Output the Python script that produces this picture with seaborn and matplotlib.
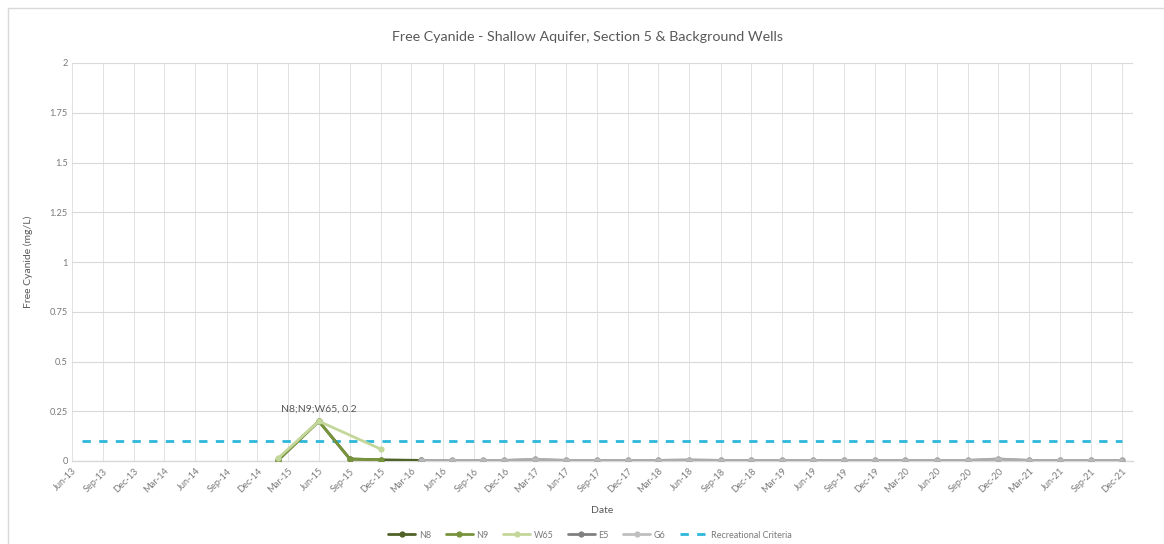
import matplotlib
matplotlib.use("Agg")
import matplotlib.pyplot as plt
from matplotlib.lines import Line2D
from matplotlib.patches import Rectangle
import pandas as pd
import seaborn as sns

# ---- data ----------------------------------------------------------------
n8_dates = ["2015-02-01", "2015-06-01", "2015-09-01", "2015-12-01", "2016-03-28"]
n8_values = [0.005, 0.2, 0.01, 0.006, 0.003]

n9_dates = ["2015-02-01", "2015-06-01", "2015-09-01", "2015-12-01"]
n9_values = [0.005, 0.2, 0.01, 0.006]

w65_dates = ["2015-02-01", "2015-06-01", "2015-12-01"]
w65_values = [0.015, 0.2, 0.06]

gw_dates = ["2016-03-28", "2016-06-28", "2016-09-28", "2016-12-01",
            "2017-03-01", "2017-06-01", "2017-09-01", "2017-12-01",
            "2018-03-01", "2018-06-01", "2018-09-01", "2018-12-01",
            "2019-03-01", "2019-06-01", "2019-09-01", "2019-12-01",
            "2020-03-01", "2020-06-01", "2020-09-01", "2020-12-01",
            "2021-03-01", "2021-06-01", "2021-09-01", "2021-12-01"]
e5_values = [0.003, 0.003, 0.003, 0.003, 0.008, 0.003, 0.003, 0.003,
             0.003, 0.005, 0.003, 0.003, 0.003, 0.003, 0.003, 0.003,
             0.003, 0.003, 0.003, 0.01, 0.003, 0.003, 0.003, 0.003]
g6_values = [0.003, 0.003, 0.003, 0.003, 0.008, 0.003, 0.003, 0.003,
             0.003, 0.005, 0.003, 0.003, 0.003, 0.003, 0.003, 0.003,
             0.003, 0.003, 0.003, 0.01, 0.003, 0.003, 0.003, 0.003]

criteria_dates = ["2013-07-01", "2021-12-01"]
criteria_values = [0.1, 0.1]

tick_dates = pd.date_range("2013-06-01", "2021-12-01", freq="3MS")
y_ticks = [0, 0.25, 0.5, 0.75, 1, 1.25, 1.5, 1.75, 2]

series = [
    ("N8", n8_dates, n8_values, "#4F6228"),
    ("N9", n9_dates, n9_values, "#77933C"),
    ("W65", w65_dates, w65_values, "#C4D79B"),
    ("E5", gw_dates, e5_values, "#808080"),
    ("G6", gw_dates, g6_values, "#BFBFBF"),
]

# ---- figure --------------------------------------------------------------
sns.set_theme(style="white")
plt.rcParams["font.family"] = ["Lato", "DejaVu Sans"]

fig = plt.figure(figsize=(11.64, 5.44), dpi=100)
fig.patch.set_facecolor("white")
ax = fig.add_axes([72 / 1164, 1 - 461 / 544, (1133 - 72) / 1164, (461 - 63) / 544])

grid_c = "#D9D9D9"
text_c = "#595959"

for name, d, v, c in series:
    df = pd.DataFrame({"Date": pd.to_datetime(d), "Value": v})
    sns.lineplot(data=df, x="Date", y="Value", ax=ax, color=c, lw=2.0,
                 marker="o", markersize=4.5, markeredgewidth=0,
                 alpha=0.7 if name == "G6" else 1.0,
                 estimator=None, sort=True, zorder=3)

crit = pd.DataFrame({"Date": pd.to_datetime(criteria_dates), "Value": criteria_values})
sns.lineplot(data=crit, x="Date", y="Value", ax=ax, color="#2DB7DA", lw=2.0,
             estimator=None, zorder=2)
ax.lines[-1].set_linestyle((0, (3, 3)))

# peak label
ax.annotate("N8;N9;W65, 0.2", xy=(pd.Timestamp(n8_dates[1]), n8_values[1]),
            xytext=(0, 9), textcoords="offset points", ha="center", va="center",
            fontsize=7.5, color=text_c)

# axes
ax.set_xlim(pd.Timestamp("2013-06-01"), pd.Timestamp("2022-01-03"))
ax.set_ylim(0, 2)
ax.set_yticks(y_ticks)
ax.set_yticklabels([f"{t:g}" for t in y_ticks])
ax.set_xticks(tick_dates)
ax.set_xticklabels([t.strftime("%b-%y") for t in tick_dates], rotation=45,
                   ha="right", rotation_mode="anchor")
ax.tick_params(axis="both", length=0, labelsize=6.7, labelcolor="#7A7A7A")
ax.tick_params(axis="x", pad=4)
ax.tick_params(axis="y", pad=3)
ax.grid(True, axis="y", color=grid_c, lw=0.8)
ax.grid(True, axis="x", color="#E2E2E2", lw=0.7)
ax.set_axisbelow(True)
for s in ["top", "right", "left"]:
    ax.spines[s].set_visible(False)
ax.spines["bottom"].set_color(grid_c)
ax.spines["bottom"].set_linewidth(1.0)

ax.set_xlabel("Date", fontsize=7.5, color=text_c, labelpad=8)
ax.set_ylabel("Free Cyanide (mg/L)", fontsize=7.5, color=text_c, labelpad=12)

fig.text(587 / 1164, 1 - 37 / 544,
         "Free Cyanide - Shallow Aquifer, Section 5 & Background Wells",
         ha="center", va="center", fontsize=10.3, color=text_c)

# legend
handles = [Line2D([0], [0], color=c, lw=2.0, marker="o", markersize=4.5,
                  markeredgewidth=0) for _, _, _, c in series]
handles.append(Line2D([0], [0], color="#2DB7DA", lw=2.0, linestyle=(0, (3, 3))))
labels = [s[0] for s in series] + ["Recreational Criteria"]
fig.legend(handles, labels, loc="center", bbox_to_anchor=(590 / 1164, 1 - 535 / 544),
           ncol=6, frameon=False, fontsize=6.5, labelcolor="#7A7A7A",
           handlelength=3.0, columnspacing=1.6, handletextpad=0.4)

# chart border
fig.patches.append(Rectangle((8 / 1164, -0.05), 1.0, 1 - 8 / 544 + 0.05,
                             transform=fig.transFigure, fill=False,
                             edgecolor="#D9D9D9", lw=1.0))

fig.savefig("out.png", dpi=100)
